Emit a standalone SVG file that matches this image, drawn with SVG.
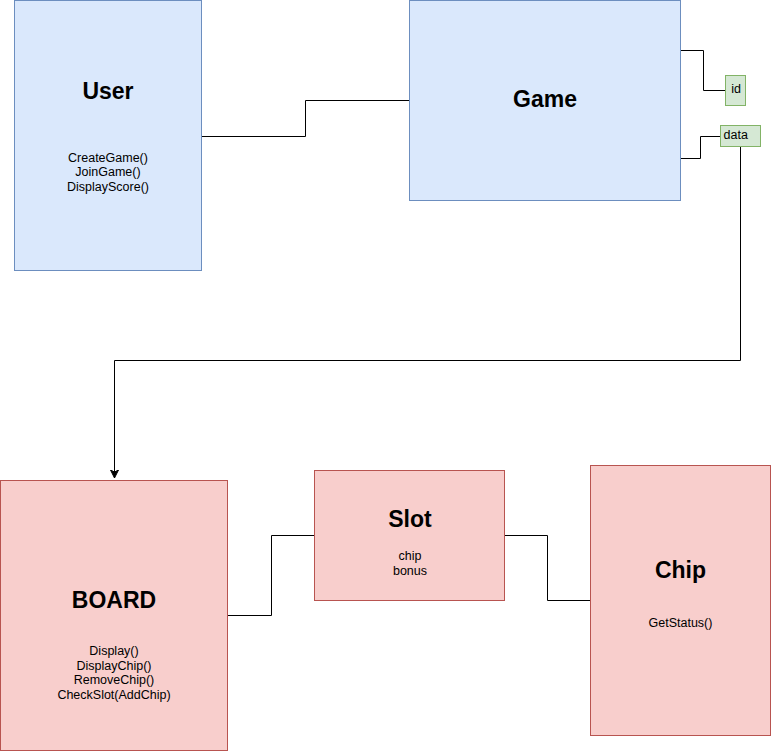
<svg xmlns="http://www.w3.org/2000/svg" width="771" height="751" viewBox="0 0 771 751">
<style>
  text { font-family: "Liberation Sans", Arial, Helvetica, sans-serif; fill: #000; }
  .title { font-size: 23px; font-weight: bold; text-anchor: middle; }
  .body { font-size: 12.5px; text-anchor: middle; }
  .blue { fill: #dae8fc; stroke: #6c8ebf; stroke-width: 1; }
  .red { fill: #f8cecc; stroke: #b85450; stroke-width: 1; }
  .green { fill: #d5e8d4; stroke: #82b366; stroke-width: 1; }
  .edge { fill: none; stroke: #000; stroke-width: 1; }
</style>
<defs>
  <marker id="arrow" markerWidth="10" markerHeight="10" viewBox="0 0 10 10" refX="8" refY="5" orient="auto" markerUnits="userSpaceOnUse">
    <path d="M0,1 L8,5 L0,9 L2,5 Z" fill="#000" stroke="#000" stroke-width="1"/>
  </marker>
</defs>
<rect x="0" y="0" width="771" height="751" fill="#fff"/>
<g id="connectors">
  <path class="edge" d="M201.5,136.5 H305.5 V100.5 H409.5"/>
  <path class="edge" d="M680.5,50.5 H703.5 V90.5 H725.5"/>
  <path class="edge" d="M680.5,158.5 H700.5 V136.5 H720.5"/>
  <path class="edge" d="M740.5,146.5 V360.5 H114.5 V478" marker-end="url(#arrow)"/>
  <path class="edge" d="M227.5,615.5 H271.5 V535.5 H314.5"/>
  <path class="edge" d="M504.5,535.5 H547.5 V600.5 H590.5"/>
</g>
<g id="user">
  <rect class="blue" x="14.5" y="0.5" width="187" height="270"/>
  <text class="title" x="108" y="98.5">User</text>
  <text class="body" x="108" y="161.5">CreateGame()</text>
  <text class="body" x="108" y="176">JoinGame()</text>
  <text class="body" x="108" y="190.5">DisplayScore()</text>
</g>
<g id="game">
  <rect class="blue" x="409.5" y="0.5" width="271" height="200"/>
  <text class="title" x="545" y="106.5">Game</text>
</g>
<g id="id">
  <rect class="green" x="725.5" y="75.5" width="20" height="30"/>
  <text class="body" x="736" y="92.5">id</text>
</g>
<g id="data">
  <rect class="green" x="720.5" y="125.5" width="40" height="21"/>
  <text class="body" x="723.5" y="139" style="text-anchor:start">data</text>
</g>
<g id="board">
  <rect class="red" x="0.5" y="480.5" width="227" height="270"/>
  <text class="title" x="114" y="607.5">BOARD</text>
  <text class="body" x="114" y="655">Display()</text>
  <text class="body" x="114" y="669.5">DisplayChip()</text>
  <text class="body" x="114" y="684">RemoveChip()</text>
  <text class="body" x="114" y="698.5">CheckSlot(AddChip)</text>
</g>
<g id="slot">
  <rect class="red" x="314.5" y="470.5" width="190" height="130"/>
  <text class="title" x="410" y="526.5">Slot</text>
  <text class="body" x="410" y="560">chip</text>
  <text class="body" x="410" y="574.5">bonus</text>
</g>
<g id="chip">
  <rect class="red" x="590.5" y="465.5" width="180" height="270"/>
  <text class="title" x="680.5" y="577.5">Chip</text>
  <text class="body" x="680.5" y="626.5">GetStatus()</text>
</g>
</svg>
